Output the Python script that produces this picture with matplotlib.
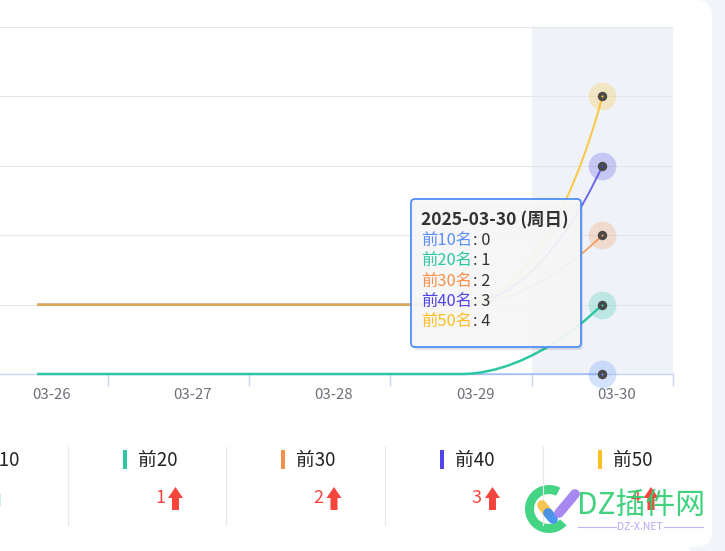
import matplotlib
matplotlib.use("Agg")
import matplotlib.pyplot as plt
from matplotlib.path import Path
from matplotlib.patches import PathPatch, FancyBboxPatch, Rectangle, Polygon, Wedge
from matplotlib.transforms import ScaledTranslation
import math

plt.rcParams['font.family'] = ['Noto Sans CJK SC', 'DejaVu Sans']

# ---------------- data ----------------
categories = ['03-26', '03-27', '03-28', '03-29', '03-30']
series_names = ['前10名', '前20名', '前30名', '前40名', '前50名']
legend_labels = ['前10', '前20', '前30', '前40', '前50']
top10 = [0, 0, 0, 0, 0]
top20 = [0, 0, 0, 0, 1]
top30 = [1, 1, 1, 1, 2]
top40 = [1, 1, 1, 1, 3]
top50 = [1, 1, 1, 1, 4]
series_values = [top10, top20, top30, top40, top50]
series_colors = ['#5b8ff9', '#2ec7a4', '#f5904a', '#4f46e5', '#fbbf24']
series_alpha = [0.35, 1.0, 0.8, 0.8, 0.8]
series_lw = [1.5, 1.8, 1.4, 1.4, 1.5]
tooltip_title = '2025-03-30 (周日)'
y_max = 5

# ---------------- figure ----------------
W, H = 725, 551
fig = plt.figure(figsize=(W / 100, H / 100), dpi=100, facecolor='white')

# background (pixel coordinates)
bg = fig.add_axes([0, 0, 1, 1], zorder=0)
bg.set_xlim(0, W); bg.set_ylim(H, 0); bg.axis('off')
bg.add_patch(Rectangle((690, -5), 40, H + 10, facecolor='#f1f4f9', edgecolor='none'))
bg.add_patch(FancyBboxPatch((-40, 0), 752, 547, boxstyle='round,pad=0,rounding_size=16',
                            facecolor='white', edgecolor='none'))

# chart axes
x0_px, x_unit = 37, 141.3
left_lim = -x0_px / x_unit
ax = fig.add_axes([0, (H - 374) / H, 673 / W, (374 - 27) / H], zorder=1)
ax.set_facecolor('none')
ax.set_xlim(left_lim, len(categories) - 0.5)
ax.set_ylim(0, y_max)
ax.axvspan(len(categories) - 1.5, len(categories) - 0.5, color='#eff3f9', zorder=0, lw=0)
ax.set_yticks(range(y_max + 1))
ax.yaxis.grid(True, color='#e4e6ea', lw=0.8, zorder=0.5)
ax.tick_params(axis='y', length=0, labelleft=False)
for s in ['left', 'right', 'top']:
    ax.spines[s].set_visible(False)
ax.spines['bottom'].set_color('#c9d6ee')
ax.spines['bottom'].set_linewidth(1.0)
ax.spines['bottom'].set_zorder(1.5)
ax.set_xticks(range(len(categories)))
ax.set_xticklabels(categories)
ax.set_xticks([i + 0.5 for i in range(len(categories))], minor=True)
ax.tick_params(axis='x', which='major', length=0, pad=10, labelsize=10.8, labelcolor='#6e7079')
ax.tick_params(axis='x', which='minor', length=8.5, width=1.0, color='#c9d6ee', direction='out')
offset = ScaledTranslation(14 / 100, 0, fig.dpi_scale_trans)
for lbl in ax.get_xticklabels():
    lbl.set_transform(lbl.get_transform() + offset)


def echarts_smooth(px, py, smooth=0.5):
    n = len(px)
    verts = [(px[0], py[0])]
    codes = [Path.MOVETO]
    cpx0, cpy0 = px[0], py[0]
    for k in range(1, n):
        x, y = px[k], py[k]
        if k == n - 1:
            cpx1, cpy1 = x, y
            ncx, ncy = x, y
        else:
            prevX, prevY = px[k - 1], py[k - 1]
            nextX, nextY = px[k + 1], py[k + 1]
            vx = nextX - prevX; vy = nextY - prevY
            lp = math.hypot(x - prevX, y - prevY)
            ln = math.hypot(nextX - x, nextY - y)
            r = ln / (ln + lp)
            ncx = x + vx * smooth * r; ncy = y + vy * smooth * r
            ncx = min(ncx, max(nextX, x)); ncy = min(ncy, max(nextY, y))
            ncx = max(ncx, min(nextX, x)); ncy = max(ncy, min(nextY, y))
            vx = ncx - x; vy = ncy - y
            cpx1 = x - vx * lp / ln; cpy1 = y - vy * lp / ln
            cpx1 = min(cpx1, max(prevX, x)); cpy1 = min(cpy1, max(prevY, y))
            cpx1 = max(cpx1, min(prevX, x)); cpy1 = max(cpy1, min(prevY, y))
            vx = x - cpx1; vy = y - cpy1
            ncx = x + vx * ln / lp; ncy = y + vy * ln / lp
        verts += [(cpx0, cpy0), (cpx1, cpy1), (x, y)]
        codes += [Path.CURVE4] * 3
        cpx0, cpy0 = ncx, ncy
    return verts, codes


xs = list(range(len(categories)))
for vals, col, a, lw in zip(series_values, series_colors, series_alpha, series_lw):
    pix = ax.transData.transform(list(zip(xs, vals)))
    verts, codes = echarts_smooth(pix[:, 0], pix[:, 1])
    dverts = ax.transData.inverted().transform(verts)
    ax.add_patch(PathPatch(Path(dverts, codes), facecolor='none', edgecolor=col,
                           lw=lw, alpha=a, zorder=3, clip_on=False))

# emphasised points at last category
for vals, col in zip(series_values, series_colors):
    ax.scatter([xs[-1]], [vals[-1]], s=(20) ** 2, color=col, alpha=0.25, lw=0, zorder=4, clip_on=False)
    ax.scatter([xs[-1]], [vals[-1]], s=6.8 ** 2, color='#4a4a4a', lw=0, zorder=5, clip_on=False)
    ax.scatter([xs[-1]], [vals[-1]], s=1.6 ** 2, color=col, lw=0, zorder=6, clip_on=False)

# foreground overlay (pixel coordinates)
fg = fig.add_axes([0, 0, 1, 1], zorder=3)
fg.set_xlim(0, W); fg.set_ylim(H, 0); fg.axis('off')
renderer = fig.canvas.get_renderer()

# tooltip
fg.add_patch(FancyBboxPatch((413, 202), 170, 148, boxstyle='round,pad=0,rounding_size=4',
                            facecolor='black', alpha=0.10, edgecolor='none'))
fg.add_patch(FancyBboxPatch((411, 199), 170, 148, boxstyle='round,pad=0,rounding_size=4',
                            facecolor='#f8f8f8', alpha=0.93, edgecolor='none'))
fg.add_patch(FancyBboxPatch((411, 199), 170, 148, boxstyle='round,pad=0,rounding_size=4',
                            facecolor='none', edgecolor='#4f8ef7', lw=1.3))
fg.text(421, 220, tooltip_title, fontsize=12.6, fontweight='bold', color='#333333',
        va='center', ha='left')
for i, (name, vals, col) in enumerate(zip(series_names, series_values, series_colors)):
    yy = 240.5 + 20.3 * i
    t = fg.text(421, yy, name, fontsize=11.8, color=col, va='center', ha='left')
    ext = t.get_window_extent(renderer)
    fg.text(ext.x1 + 1, yy, ': %d' % vals[-1], fontsize=11.8, color='#333333', va='center', ha='left')

# bottom legend summary
pitch = 158.5
for i, (lab, vals, col) in enumerate(zip(legend_labels, series_values, series_colors)):
    bx = -35.5 + i * pitch
    fg.add_patch(Rectangle((bx, 450), 4, 19, facecolor=col, edgecolor='none'))
    fg.text(bx + 15, 460.5, lab, fontsize=13.5, color='#222222', va='center', ha='left')
    if vals[-1] > 0:
        fg.text(bx + 32, 498, str(vals[-1]), fontsize=13, color='#f5453d', va='center', ha='left')
        ax0 = bx + 45
        fg.add_patch(Polygon([(ax0, 498), (ax0 + 7.5, 487), (ax0 + 15, 498), (ax0 + 11, 498),
                              (ax0 + 11, 510), (ax0 + 4, 510), (ax0 + 4, 498)],
                             closed=True, facecolor='#f5453d', edgecolor='none'))
    else:
        fg.add_patch(Rectangle((bx + 34, 494), 3, 12, facecolor='#c8f1e5', edgecolor='none'))
for i in range(4):
    sx = 68 + i * pitch
    fg.plot([sx, sx], [447, 525], color='#e8e8e8', lw=0.9)

# watermark
wm_alpha = 0.92
fg.add_patch(Wedge((549, 509), 24, 43, 298, width=9, facecolor='#33d17a', edgecolor='none', alpha=wm_alpha))
fg.plot([542, 548], [505, 513], color='#f5c242', lw=7, solid_capstyle='round', alpha=wm_alpha)
fg.plot([548, 553], [513, 519], color='#3d8ef0', lw=7, solid_capstyle='round', alpha=wm_alpha)
fg.plot([559, 575], [513, 494], color='#a07ef0', lw=7, solid_capstyle='round', alpha=wm_alpha)
fg.text(577, 505, 'DZ插件网', fontsize=21.5, color='#2fcf72', va='center', ha='left', alpha=wm_alpha)
fg.text(640, 527, 'DZ-X.NET', fontsize=7.5, color='#b9a6f2', va='center', ha='center')
fg.plot([578, 616], [527, 527], color='#c2b2f5', lw=0.8)
fg.plot([664, 703], [527, 527], color='#c2b2f5', lw=0.8)

fig.savefig('out.png', dpi=100, facecolor='white')
